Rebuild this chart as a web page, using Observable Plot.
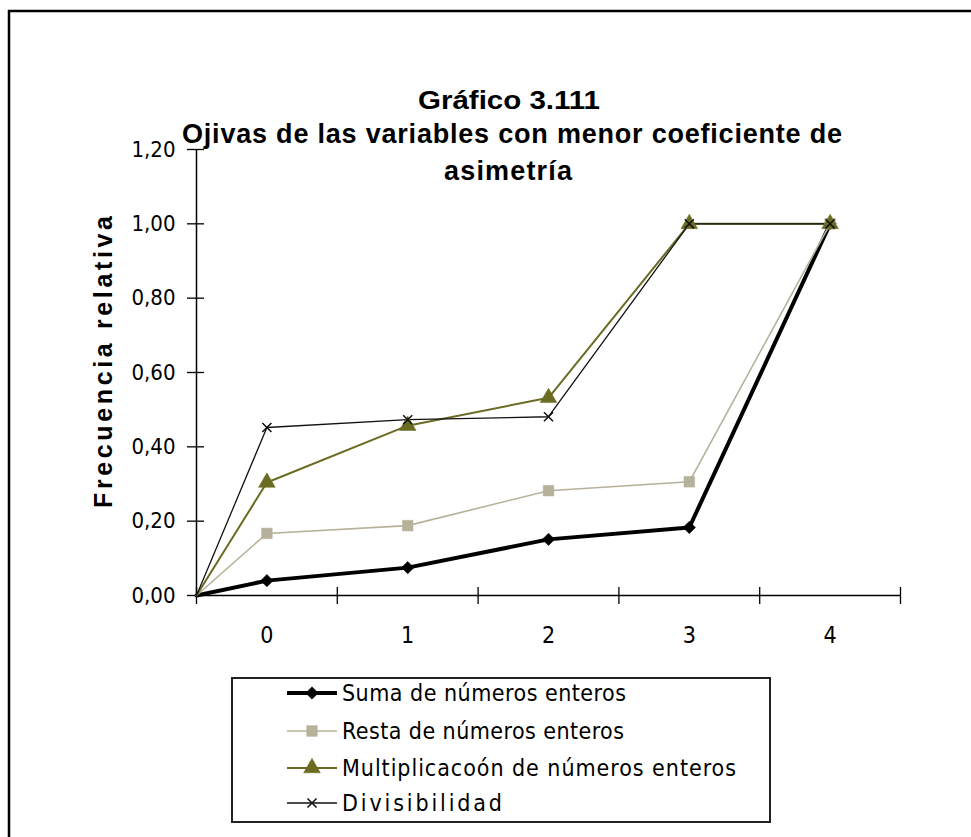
<!DOCTYPE html>
<html>
<head>
<meta charset="utf-8">
<script src="https://cdn.jsdelivr.net/npm/d3@7"></script>
<script src="https://cdn.jsdelivr.net/npm/@observablehq/plot@0.6"></script>
<style>
  html, body { margin: 0; padding: 0; background: #fff; }
  #chart { position: relative; width: 971px; height: 837px; overflow: hidden; }
</style>
</head>
<body>
<div id="chart"></div>
<script>
// ---- Data ----
const categories = ["0", "1", "2", "3", "4"];
const startValue = 0; // each ogive starts at 0 on the vertical axis
const suma = [0.040, 0.075, 0.151, 0.183, 1.00];
const resta = [0.167, 0.188, 0.282, 0.306, 1.00];
const multiplicacion = [0.304, 0.457, 0.532, 1.00, 1.00];
const divisibilidad = [0.452, 0.473, 0.481, 1.00, 1.00];
const seriesNames = [
  "Suma de números enteros",
  "Resta de números enteros",
  "Multiplicacoón de números enteros",
  "Divisibilidad"
];
const yTicks = [0, 0.2, 0.4, 0.6, 0.8, 1.0, 1.2];
const titleText = "Gráfico 3.111";
const subtitle1 = "Ojivas de las variables con menor coeficiente de";
const subtitle2 = "asimetría";
const yLabel = "Frecuencia relativa";

// ---- Styling ----
const styles = [
  {stroke: "#000000", width: 4, symbol: "diamond2", r: 5.6, fill: "#000000"},
  {stroke: "#b5b19a", width: 1.6, symbol: "square", r: 6.0, fill: "#b5b19a"},
  {stroke: "#6b6b23", width: 2, symbol: "triangle", r: 6.2, fill: "#6b6b23"},
  {stroke: "#111111", width: 1.3, symbol: "times", r: 4.2, fill: "none"}
];
const narrow = "'DejaVu Sans Condensed', 'Liberation Sans Narrow', 'Liberation Sans', sans-serif";
const bold = "'Liberation Sans', Arial, sans-serif";
const legendWidths = [284, 282, 394, 160];

const allValues = [suma, resta, multiplicacion, divisibilidad];
const xStart = -0.5;
const xEnd = categories.length - 0.5;
const boundaries = d3.range(xStart, xEnd + 0.01, 1);

const lineData = [];
const pointData = [];
allValues.forEach((vals, s) => {
  lineData.push({series: s, x: xStart, y: startValue});
  vals.forEach((v, i) => {
    lineData.push({series: s, x: i, y: v});
    pointData.push({series: s, x: i, y: v});
  });
});

const marks = [
  Plot.ruleY([0], {x1: xStart, x2: xEnd, stroke: "#000", strokeWidth: 1.5}),
  Plot.ruleX([xStart], {y1: 0, y2: 1.2, stroke: "#000", strokeWidth: 1.5}),
  Plot.ruleX(boundaries, {x: d => d, y1: 0, y2: 0, insetTop: -8, insetBottom: -9, stroke: "#000", strokeWidth: 1.3}),
  Plot.ruleY(yTicks, {y: d => d, x1: xStart, x2: xStart, insetLeft: -9, insetRight: -8, stroke: "#000", strokeWidth: 1.3}),
  Plot.text(yTicks, {x: xStart, y: d => d, text: d => d3.format(".2f")(d).replace(".", ","), dx: -21, textAnchor: "end",
    fontSize: 22, fontFamily: narrow, fill: "#000", letterSpacing: 1}),
  Plot.text(categories, {x: (d, i) => i, y: 0, text: d => d, dy: 40, fontSize: 23, fontFamily: narrow, fill: "#000"})
];
allValues.forEach((vals, s) => {
  const st = styles[s];
  marks.push(Plot.line(lineData.filter(d => d.series === s), {x: "x", y: "y", stroke: st.stroke, strokeWidth: st.width, strokeLinejoin: "miter"}));
});
allValues.forEach((vals, s) => {
  const st = styles[s];
  marks.push(Plot.dot(pointData.filter(d => d.series === s), {x: "x", y: "y", symbol: st.symbol, r: st.r,
    fill: st.fill === "none" ? "none" : st.fill, stroke: st.stroke, strokeWidth: st.fill === "none" ? 1.5 : 0.5}));
});

const plot = Plot.plot({
  width: 971,
  height: 837,
  marginLeft: 196,
  marginRight: 71,
  marginTop: 149,
  marginBottom: 242,
  x: {domain: [xStart, xEnd], axis: null},
  y: {domain: [0, 1.2], axis: null},
  style: {background: "white", overflow: "visible"},
  marks
});

const svg = d3.select(plot);

// outer border
svg.insert("rect", ":first-child")
  .attr("x", 9).attr("y", 11).attr("width", 1000).attr("height", 900)
  .attr("fill", "none").attr("stroke", "#000").attr("stroke-width", 2.5);

// titles
svg.append("text").attr("x", 509).attr("y", 109).attr("text-anchor", "middle")
  .attr("font-family", bold).attr("font-weight", "bold").attr("font-size", 26)
  .attr("textLength", 182).attr("lengthAdjust", "spacingAndGlyphs")
  .text(titleText);
svg.append("text").attr("x", 512).attr("y", 143).attr("text-anchor", "middle")
  .attr("font-family", bold).attr("font-weight", "bold").attr("font-size", 27)
  .attr("textLength", 660).attr("lengthAdjust", "spacing")
  .text(subtitle1);
svg.append("text").attr("x", 508).attr("y", 180).attr("text-anchor", "middle")
  .attr("font-family", bold).attr("font-weight", "bold").attr("font-size", 27)
  .attr("textLength", 128).attr("lengthAdjust", "spacing")
  .text(subtitle2);

// y axis title
svg.append("text").attr("transform", "translate(112,362) rotate(-90)").attr("text-anchor", "middle")
  .attr("font-family", bold).attr("font-weight", "bold").attr("font-size", 25)
  .attr("textLength", 292).attr("lengthAdjust", "spacing")
  .text(yLabel);

// legend
const lg = svg.append("g");
lg.append("rect").attr("x", 232).attr("y", 678).attr("width", 538).attr("height", 144)
  .attr("fill", "white").attr("stroke", "#222").attr("stroke-width", 2);
const rowY = [693, 731, 768, 803];
const symMap = {diamond2: d3.symbolDiamond2, square: d3.symbolSquare, triangle: d3.symbolTriangle, times: d3.symbolTimes};
seriesNames.forEach((name, s) => {
  const st = styles[s];
  const y = rowY[s];
  lg.append("line").attr("x1", 287).attr("x2", 337).attr("y1", y).attr("y2", y)
    .attr("stroke", st.stroke).attr("stroke-width", st.width);
  lg.append("path").attr("transform", `translate(312,${y})`)
    .attr("d", d3.symbol(symMap[st.symbol], Math.PI * st.r * st.r)())
    .attr("fill", st.fill).attr("stroke", st.stroke).attr("stroke-width", st.fill === "none" ? 1.5 : 0.5);
  lg.append("text").attr("x", 342).attr("y", y).attr("dy", "0.36em").attr("text-anchor", "start")
    .attr("font-family", narrow).attr("font-size", 23)
    .attr("textLength", legendWidths[s]).attr("lengthAdjust", "spacing")
    .text(name);
});

document.getElementById("chart").appendChild(plot);
</script>
</body>
</html>
